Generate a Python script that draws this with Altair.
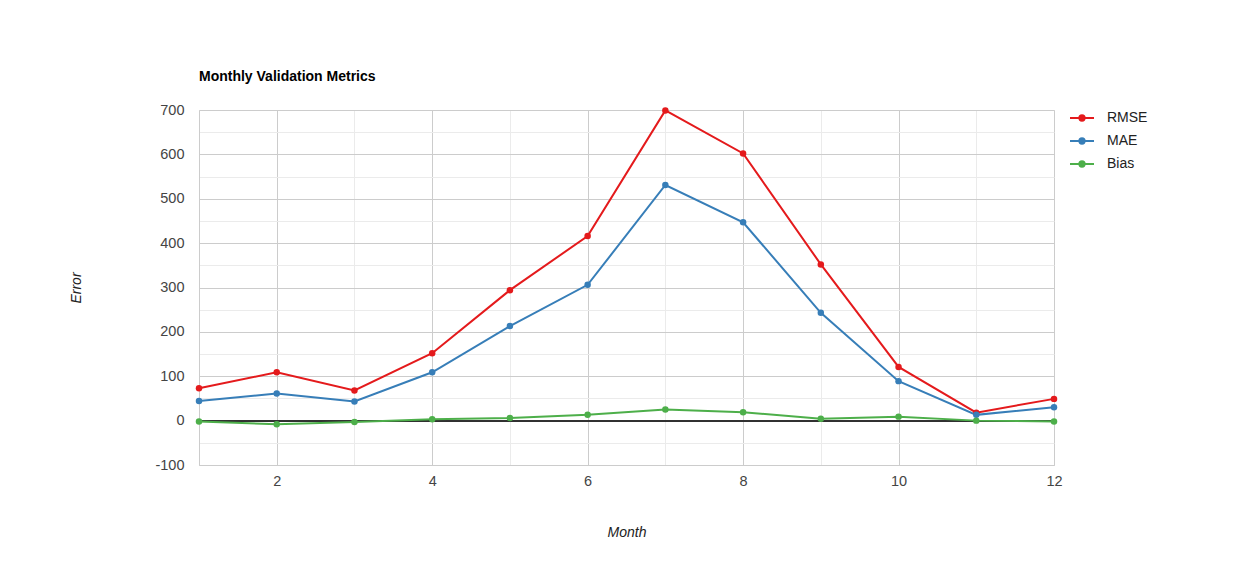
import altair as alt
import pandas as pd

months = list(range(1, 13))
rmse = [73, 109, 68, 152, 294, 416, 699, 602, 352, 121, 18, 49]
mae = [44, 61, 43, 109, 213, 306, 531, 447, 243, 89, 13, 30]
bias = [-2, -8, -3, 3, 6, 13, 25, 19, 4, 9, 0, -2]
series = ["RMSE", "MAE", "Bias"]
colors = ["#e41a1c", "#377eb8", "#4daf4a"]

rows = []
for name, vals in zip(series, [rmse, mae, bias]):
    for m, v in zip(months, vals):
        rows.append({"Month": m, "Value": v, "Series": name})
df = pd.DataFrame(rows)

FONT = "Liberation Sans"
xscale = alt.Scale(domain=[1, 12], nice=False, zero=False)
yscale = alt.Scale(domain=[-100, 700], nice=False)

sym = "M-1,0L1,0M0.22,0A0.22,0.22 0 1,1 -0.22,0A0.22,0.22 0 1,1 0.22,0Z"

color = alt.Color(
    "Series:N",
    scale=alt.Scale(domain=series, range=colors),
    sort=series,
    legend=alt.Legend(
        title=None, orient="none", legendX=870, legendY=-5,
        symbolType=sym, symbolSize=576, symbolStrokeWidth=2,
        labelFont=FONT, labelFontSize=14, labelColor="#222",
        labelOffset=12, rowPadding=3, padding=0,
    ),
)

# minor grid
minor = alt.Chart(df).mark_point(opacity=0).encode(
    x=alt.X("Month:Q", scale=xscale,
            axis=alt.Axis(values=[1, 3, 5, 7, 9, 11], grid=True, gridColor="#ebebeb",
                          labels=False, ticks=False, domain=False, title=None, orient="bottom")),
    y=alt.Y("Value:Q", scale=yscale,
            axis=alt.Axis(values=[-50, 50, 150, 250, 350, 450, 550, 650], grid=True,
                          gridColor="#ebebeb", labels=False, ticks=False, domain=False,
                          title=None, orient="left")),
)

major = alt.Chart(df).mark_point(opacity=0).encode(
    x=alt.X("Month:Q", scale=xscale,
            axis=alt.Axis(values=[2, 4, 6, 8, 10, 12], grid=True, gridColor="#cccccc",
                          ticks=False, domain=True, domainColor="#cccccc",
                          labelFont=FONT, labelFontSize=14.5, labelColor="#444",
                          labelPadding=9, labelFlush=False, labelExpr="'' + datum.value",
                          title="Month", titleFont=FONT,
                          titleFontSize=14, titleFontStyle="italic", titleFontWeight="normal",
                          titleColor="#222", titlePadding=38, orient="bottom")),
    y=alt.Y("Value:Q", scale=yscale,
            axis=alt.Axis(values=list(range(-100, 701, 100)), grid=True, gridColor="#cccccc",
                          ticks=False, domain=True, domainColor="#cccccc",
                          labelFont=FONT, labelFontSize=14.5, labelColor="#444",
                          labelPadding=15, labelExpr="'' + datum.value",
                          title="Error", titleFont=FONT,
                          titleFontSize=14, titleFontStyle="italic", titleFontWeight="normal",
                          titleColor="#222", titlePadding=71, orient="left")),
)

zero = alt.Chart(df).mark_rule(color="#333333", strokeWidth=1).encode(
    y=alt.datum(0, scale=yscale, axis=None)
)

lines = alt.Chart(df).mark_line(strokeWidth=2).encode(
    x=alt.X("Month:Q", scale=xscale, axis=None),
    y=alt.Y("Value:Q", scale=yscale, axis=None),
    color=color,
    order="Month:Q",
)
points = alt.Chart(df).mark_circle(size=42, opacity=1).encode(
    x=alt.X("Month:Q", scale=xscale, axis=None),
    y=alt.Y("Value:Q", scale=yscale, axis=None),
    color=alt.Color("Series:N", scale=alt.Scale(domain=series, range=colors), legend=None),
)

chart = (
    alt.layer(minor, major, zero, lines, points)
    .resolve_axis(x="independent", y="independent")
    .properties(
        width=855, height=355,
        title=alt.TitleParams("Monthly Validation Metrics", anchor="start", frame="group",
                              font=FONT, fontSize=14, fontWeight="bold", color="#000",
                              offset=18),
        autosize=alt.AutoSizeParams(type="none"),
        padding={"left": 191, "top": 102, "right": 180, "bottom": 90},
    )
    .configure_view(stroke=None)
    .configure(background="white")
)

chart.save("out.html", embed_options={"renderer": "svg", "actions": False})
